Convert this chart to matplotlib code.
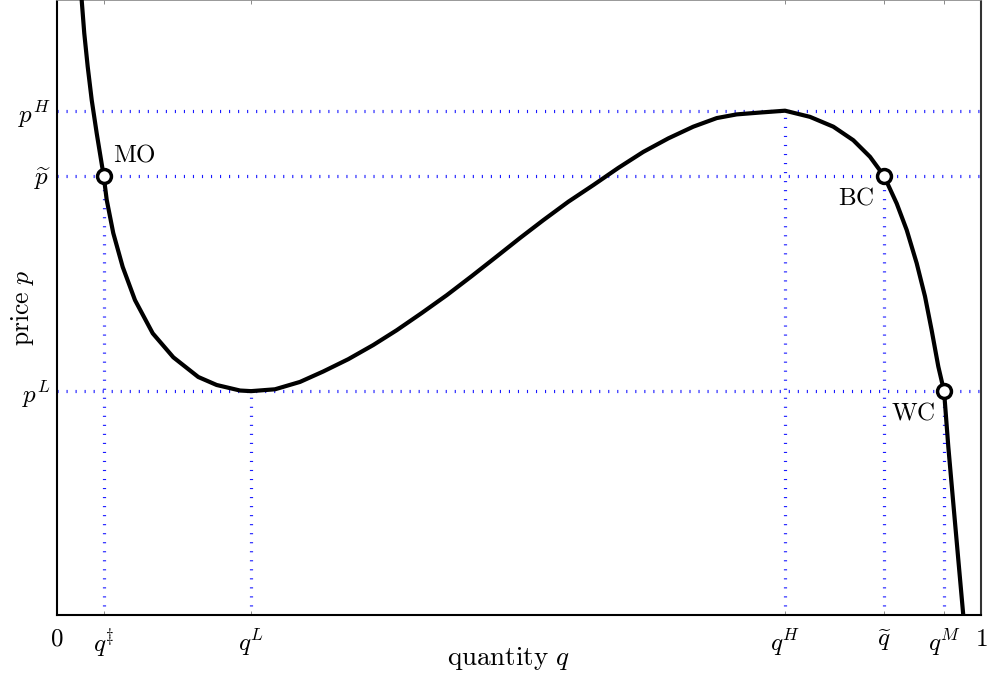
import matplotlib
matplotlib.use("Agg")
import matplotlib.pyplot as plt

plt.rcParams['mathtext.fontset'] = 'cm'
plt.rcParams['font.family'] = 'serif'
plt.rcParams['font.serif'] = ['DejaVu Serif']
plt.rcParams['lines.scale_dashes'] = False

# curve (quantity q, price p)
curve_q = [0.0267, 0.0295, 0.0332, 0.0376, 0.0430, 0.0505, 0.0538, 0.0609,
           0.0711, 0.0844, 0.1036, 0.1259, 0.1529, 0.1728, 0.1981,
           0.2100, 0.2359, 0.2630, 0.2882, 0.3153, 0.3423, 0.3676, 0.3947,
           0.4218, 0.4488, 0.4759, 0.5011, 0.5263, 0.5534, 0.5804, 0.6075,
           0.6345, 0.6616, 0.6886, 0.7140, 0.7356, 0.7608, 0.7879, 0.8149,
           0.8402, 0.8618, 0.8799, 0.8950, 0.9088, 0.9196, 0.9304, 0.9394,
           0.9466, 0.9538, 0.9600, 0.9646, 0.9700, 0.9755, 0.9808]
curve_p = [1.000, 0.946, 0.892, 0.837, 0.783, 0.714, 0.675, 0.621,
           0.566, 0.512, 0.458, 0.419, 0.387, 0.374, 0.365,
           0.364, 0.367, 0.379, 0.396, 0.416, 0.439, 0.463, 0.491,
           0.520, 0.551, 0.583, 0.613, 0.642, 0.672, 0.699, 0.727,
           0.753, 0.775, 0.794, 0.808, 0.814, 0.817, 0.820, 0.810,
           0.794, 0.772, 0.745, 0.714, 0.669, 0.626, 0.572, 0.518,
           0.463, 0.404, 0.364, 0.274, 0.182, 0.089, 0.000]

# key quantities / prices
q_dag, q_L, q_H, q_tilde, q_M = 0.0505, 0.2100, 0.7879, 0.8950, 0.9600
p_H, p_tilde, p_L = 0.820, 0.714, 0.364

x_ticks = [0, q_dag, q_L, q_H, q_tilde, q_M, 1]
x_labels = [r'$0$', r'$q^{\ddag}$', r'$q^L$', r'$q^H$', r'$\widetilde{q}$', r'$q^M$', r'$1$']
y_ticks = [p_L, p_tilde, p_H]
y_labels = [r'$p^L$', r'$\widetilde{p}$', r'$p^H$']

points_q = [q_dag, q_tilde, q_M]
points_p = [p_tilde, p_tilde, p_L]
point_names = ['MO', 'BC', 'WC']

fig = plt.figure(figsize=(9.88, 6.74), dpi=100)
ax = fig.add_axes([57/988, 1 - 615/674, 924/988, 615/674])
ax.set_xlim(0, 1)
ax.set_ylim(0, 1)

dot = dict(color='blue', lw=2.3, dashes=(0.8, 5.7), alpha=0.9, zorder=1,
           solid_capstyle='butt', dash_capstyle='butt')
for p in y_ticks:
    ax.plot([0, 1], [p, p], **dot)
for q, p in zip([q_dag, q_L, q_H, q_tilde, q_M], [p_tilde, p_L, p_H, p_tilde, p_L]):
    ax.plot([q, q], [0, p], **dot)

ax.plot(curve_q, curve_p, color='black', lw=3, solid_capstyle='round',
        solid_joinstyle='round', zorder=3)
ax.plot(points_q, points_p, 'o', ms=10, mfc='white', mec='black', mew=2.5, zorder=4)

offsets = [(0.010, 0.034), (-0.010, -0.036), (-0.010, -0.036)]
has = ['left', 'right', 'right']
for q, p, name, off, ha in zip(points_q, points_p, point_names, offsets, has):
    ax.text(q + off[0], p + off[1], r'$\mathrm{' + name + '}$', fontsize=18,
            ha=ha, va='center')

ax.set_xticks(x_ticks)
ax.set_xticklabels(x_labels, fontsize=18)
ax.set_yticks(y_ticks)
ax.set_yticklabels(y_labels, fontsize=18)
ax.tick_params(axis='y', length=0, pad=4.5)
ax.tick_params(axis='x', length=0, pad=9)
ax.tick_params(top=True, direction='in', length=3, width=0.6, colors='#777777',
               labelcolor='black', axis='x')

ax.text((508 - 57) / 924, (615 - 665) / 615, r'$\mathrm{quantity}\ q$', fontsize=19.5,
        ha='center', va='baseline', transform=ax.transAxes)
ax.text((23 - 57) / 924, 0.5, r'$\mathrm{price}\ p$', fontsize=18.5, rotation=90,
        ha='center', va='center', transform=ax.transAxes)

for s in ['left', 'bottom']:
    ax.spines[s].set_linewidth(1.5)
    ax.spines[s].set_color('black')
ax.spines['right'].set_linewidth(1.5)
ax.spines['right'].set_color('#333333')
ax.spines['top'].set_linewidth(1.2)
ax.spines['top'].set_color('#888888')

fig.savefig('out.png', dpi=100)
